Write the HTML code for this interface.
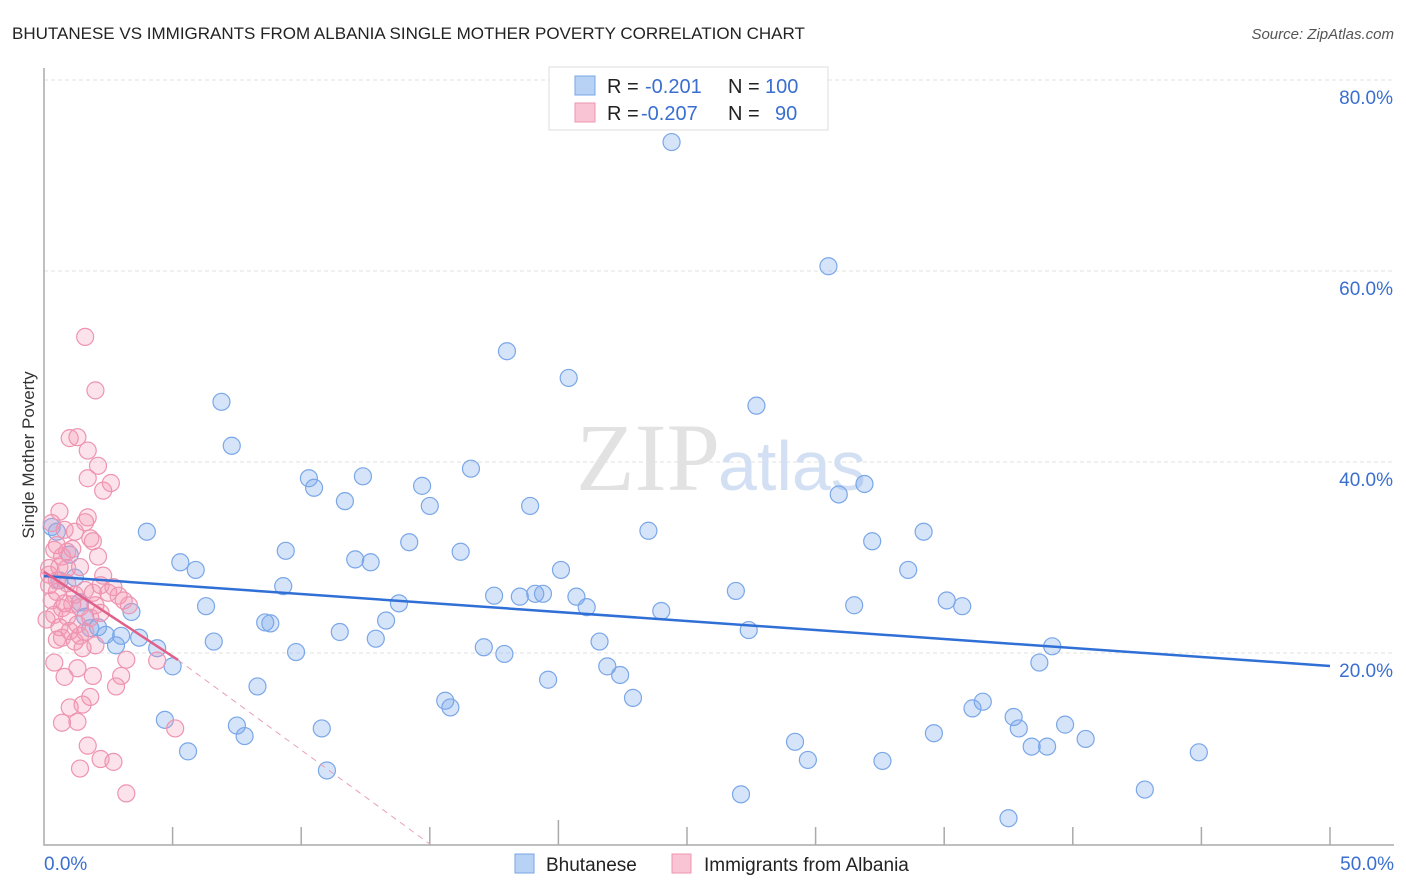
<!DOCTYPE html>
<html><head><meta charset="utf-8"><style>
body{margin:0;background:#fff;font-family:"Liberation Sans",sans-serif;}
svg{display:block}
</style></head><body>
<svg id="chart" width="1406" height="892">
<text x="12" y="39" font-size="17" fill="#222">BHUTANESE VS IMMIGRANTS FROM ALBANIA SINGLE MOTHER POVERTY CORRELATION CHART</text>
<text x="1394" y="39" font-size="15" fill="#555" font-style="italic" text-anchor="end">Source: ZipAtlas.com</text>
<text x="34" y="455" font-size="17" fill="#333" text-anchor="middle" transform="rotate(-90 34 455)">Single Mother Poverty</text>
<g id="grid"></g>
<text x="720" y="490" font-size="96" fill="#e2e2e2" text-anchor="end" font-family="Liberation Serif,serif">ZIP</text>
<text x="718" y="490" font-size="70" fill="#d3e0f3">atlas</text>
<g id="pts"></g>
<g id="lines"></g>
<g>
<rect x="549" y="67" width="279" height="63" fill="#fff" stroke="#ddd"/>
<rect x="575" y="76" width="20" height="19" fill="#b8d2f5" stroke="#7aa5e6"/>
<rect x="575" y="103" width="20" height="19" fill="#f9c5d4" stroke="#ee94ad"/>
<text x="607" y="93" font-size="20" fill="#222">R = <tspan fill="#3a6fd0" x="645">-0.201</tspan><tspan x="728">N =</tspan><tspan fill="#3a6fd0" x="765">100</tspan></text>
<text x="607" y="120" font-size="20" fill="#222">R = <tspan fill="#3a6fd0" x="641">-0.207</tspan><tspan x="728">N =</tspan><tspan fill="#3a6fd0" x="775">90</tspan></text>
</g>
<rect x="515" y="854" width="19" height="19" fill="#b8d2f5" stroke="#7aa5e6"/>
<text x="546" y="871" font-size="19" fill="#222">Bhutanese</text>
<rect x="672" y="854" width="19" height="19" fill="#f9c5d4" stroke="#ee94ad"/>
<text x="704" y="871" font-size="19" fill="#222">Immigrants from Albania</text>
</svg>
<script>
const blueX=[24.4,30.5,18.0,20.4,27.7,6.9,7.3,16.6,10.3,12.4,10.5,14.7,11.7,15.0,18.9,30.9,31.9,4.0,23.5,34.2,9.4,32.2,14.2,16.2,12.1,12.7,5.3,5.9,20.1,33.6,9.3,26.9,17.5,18.5,19.1,19.4,20.7,35.1,21.1,13.8,6.3,24.0,31.5,35.7,3.4,13.3,8.6,8.8,11.5,27.4,2.1,1.8,2.4,3.0,3.7,2.8,6.6,12.9,21.6,17.1,17.9,39.2,4.4,9.8,5.0,21.9,22.4,19.6,8.3,38.7,22.9,15.6,15.8,36.5,36.1,37.7,37.9,4.7,7.5,10.8,7.8,39.7,34.6,40.5,29.2,38.4,39.0,5.6,44.9,29.7,32.6,11.0,27.1,42.8,37.5,1.2,0.5,0.3,1.0,0.6,1.4,1.6];
const blueY=[73.5,60.5,51.6,48.8,45.9,46.3,41.7,39.3,38.3,38.5,37.3,37.5,35.9,35.4,35.4,36.6,37.7,32.7,32.8,32.7,30.7,31.7,31.6,30.6,29.8,29.5,29.5,28.7,28.7,28.7,27.0,26.5,26.0,25.9,26.2,26.2,25.9,25.5,24.8,25.2,24.9,24.4,25.0,24.9,24.3,23.4,23.2,23.1,22.2,22.4,22.7,22.6,21.9,21.8,21.6,20.8,21.2,21.5,21.2,20.6,19.9,20.7,20.5,20.1,18.6,18.6,17.7,17.2,16.5,19.0,15.3,15.0,14.3,14.9,14.2,13.3,12.1,13.0,12.4,12.1,11.3,12.5,11.6,11.0,10.7,10.2,10.2,9.7,9.6,8.8,8.7,7.7,5.2,5.7,2.7,27.9,32.7,33.2,30.3,27.6,25.3,23.8];
const pinkX=[1.6,2.0,1.0,1.3,1.7,2.1,1.7,2.6,2.3,0.6,1.7,1.6,0.3,0.8,1.2,1.8,1.9,0.4,0.9,1.1,0.7,2.1,0.6,1.4,0.2,0.5,0.9,2.3,2.2,2.7,1.6,1.9,0.5,3.1,3.3,1.1,1.4,0.7,0.4,0.9,2.2,1.8,1.3,0.6,1.0,1.6,2.0,1.2,0.5,1.4,3.2,4.4,0.4,1.3,0.8,1.9,3.0,2.8,1.8,1.0,1.5,0.7,1.3,5.1,1.7,2.2,2.7,1.4,3.2,0.2,0.2,0.3,0.1,0.5,0.8,1.2,2.5,2.9,0.7,1.5,2.0,0.9];
const pinkY=[53.1,47.5,42.5,42.6,41.2,39.6,38.3,37.8,37.0,34.8,34.2,33.7,33.6,32.9,32.7,32.0,31.7,30.8,30.6,30.9,30.1,30.1,29.0,29.0,28.2,27.6,27.3,28.1,27.1,26.9,26.6,26.3,26.4,25.5,25.0,25.1,24.8,24.7,24.0,23.8,24.2,23.7,23.0,22.7,22.3,22.2,20.8,21.2,21.4,21.8,19.3,19.2,19.0,18.4,17.5,17.6,17.6,16.5,15.4,14.3,14.6,12.7,12.8,12.1,10.3,8.9,8.6,7.9,5.3,28.9,27.1,25.5,23.5,31.3,25.2,26.1,26.3,26.0,21.6,20.5,25.0,28.9];
const blueTrend=[[0,28.06],[50,18.64]];
const pinkTrend=[[0,28.5],[5.21,19.27]];
const pinkDash=[[5.21,19.27],[15,0]];
const yTicks=[20,40,60,80];
const xTickVals=[0,5,10,15,20,25,30,35,40,45,50];
const X0=44,X1=1330,Y0=844,Y80=80;
const sx=v=>X0+(v/50)*(X1-X0);
const sy=v=>Y0-(v/80)*(Y0-Y80);
const NS="http://www.w3.org/2000/svg";
function mk(t,a,p){const e=document.createElementNS(NS,t);for(const k in a)e.setAttribute(k,a[k]);p.appendChild(e);return e;}
const grid=document.getElementById('grid');
yTicks.forEach(v=>{
 const l=mk('line',{x1:X0,x2:1394,y1:sy(v),y2:sy(v),stroke:'#e2e2e2','stroke-dasharray':'4,3'},grid);
 
 
 const t=mk('text',{x:1393,y:sy(v)+24,'font-size':19,fill:'#3a6fd0','text-anchor':'end'},grid);
 t.textContent=v.toFixed(1)+'%';
 
 
});
const ax=mk('path',{d:`M${X0},68 V845 H1394`,fill:'none',stroke:'#aaa','stroke-width':1.5},grid);


xTickVals.slice(1).forEach(v=>{
 const l=mk('line',{x1:sx(v),x2:sx(v),y1:v==20?820:827,y2:845,stroke:'#aaa','stroke-width':1.5},grid);
 
 
});
[[0,'0.0%','start',X0],[50,'50.0%','end',1394]].forEach(([v,s,a,x])=>{
 const t=mk('text',{x:x,y:870,'font-size':19,fill:'#3a6fd0','text-anchor':a},grid);
 t.textContent=s;
 
 
});
const pts=document.getElementById('pts');
blueX.forEach((x,i)=>{
 const c=mk('circle',{cx:sx(x),cy:sy(blueY[i]),r:8.5,fill:'rgba(120,165,235,0.3)',stroke:'#7aa7e8','stroke-width':1.2},pts);
 
 
});
pinkX.forEach((x,i)=>{
 const c=mk('circle',{cx:sx(x),cy:sy(pinkY[i]),r:8.5,fill:'rgba(245,150,180,0.28)',stroke:'#ee94b0','stroke-width':1.2},pts);
 
 
});
const lines=document.getElementById('lines');
const bl=mk('line',{x1:sx(blueTrend[0][0]),y1:sy(blueTrend[0][1]),x2:sx(blueTrend[1][0]),y2:sy(blueTrend[1][1]),stroke:'#2f6fd6','stroke-width':2.5},lines);


const pl=mk('line',{x1:sx(pinkTrend[0][0]),y1:sy(pinkTrend[0][1]),x2:sx(pinkTrend[1][0]),y2:sy(pinkTrend[1][1]),stroke:'#e0608a','stroke-width':2.5},lines);


const pd=mk('line',{x1:sx(pinkDash[0][0]),y1:sy(pinkDash[0][1]),x2:sx(pinkDash[1][0]),y2:sy(pinkDash[1][1]),stroke:'#e8a0b6','stroke-width':1,'stroke-dasharray':'6,5'},lines);


</script>
</body></html>
